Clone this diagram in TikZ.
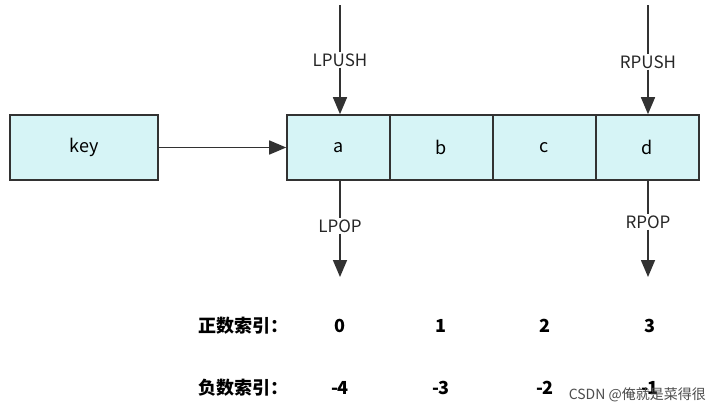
\documentclass[tikz,border=0pt]{standalone}
\usepackage{fontspec}
\setmainfont{Noto Sans CJK SC}
\usetikzlibrary{arrows.meta}
\definecolor{cellfill}{RGB}{214,244,246}
\definecolor{edge}{RGB}{50,50,50}
\begin{document}
\begin{tikzpicture}[x=1pt,y=-1pt,
  cell/.style={draw=edge,line width=1.6pt,fill=cellfill,minimum width=103pt,minimum height=65pt,inner sep=0pt,font=\fontsize{18}{20}\selectfont,anchor=center},
  arr/.style={draw=edge,line width=1.6pt,-{Triangle[length=17pt,width=14pt]}},
  ln/.style={draw=edge,line width=1.6pt},
  lbl/.style={font=\fontsize{17}{19}\selectfont,text=black!85,inner sep=1pt},
  idx/.style={font=\bfseries\fontsize{18}{20}\selectfont,inner sep=1pt}]
\useasboundingbox (0,0) rectangle (720,413);
\node[cell,minimum width=148pt] (key) at (84,147.5) {key};
\node[cell] (a) at (338.5,147.5) {a};
\node[cell] (b) at (441.5,147.5) {b};
\node[cell] (c) at (544.5,147.5) {c};
\node[cell] (d) at (647.5,147.5) {d};
\draw[arr] (key) -- (a);
% LPUSH
\coordinate (lt) at (340,5);
\node[lbl] (lpush) at (340,60) {LPUSH};
\draw[ln] (lt) -- (lpush);
\draw[arr] (lpush) -- (a.north-|lpush);
\coordinate (rt) at (648,5);
\node[lbl] (rpush) at (648,62) {RPUSH};
\draw[ln] (rt) -- (rpush);
\draw[arr] (rpush) -- (d.north-|rpush);
% POP
\node[lbl] (lpop) at (340,226) {LPOP};
\coordinate (lb) at (340,277);
\draw[ln] (a.south-|lpop) -- (lpop);
\draw[arr] (lpop) -- (lb);
\node[lbl] (rpop) at (648,222) {RPOP};
\coordinate (rb) at (648,277);
\draw[ln] (d.south-|rpop) -- (rpop);
\draw[arr] (rpop) -- (rb);
% indices
\node[idx,anchor=east] (pos) at (290,326) {正数索引：};
\node[idx] (p0) at (340,326) {0};
\node[idx] (p1) at (441,326) {1};
\node[idx] (p2) at (545,326) {2};
\node[idx] (p3) at (650,326) {3};
\node[idx,anchor=east] (neg) at (290,388) {负数索引：};
\node[idx] (n0) at (340,388) {-4};
\node[idx] (n1) at (441,388) {-3};
\node[idx] (n2) at (545,388) {-2};
\node[idx] (n3) at (650,388) {-1};
\node[font=\fontsize{14}{16}\selectfont,text=black!70,anchor=east,inner sep=1pt] (wm) at (707,395) {CSDN @俺就是菜得很};
\end{tikzpicture}
\end{document}
